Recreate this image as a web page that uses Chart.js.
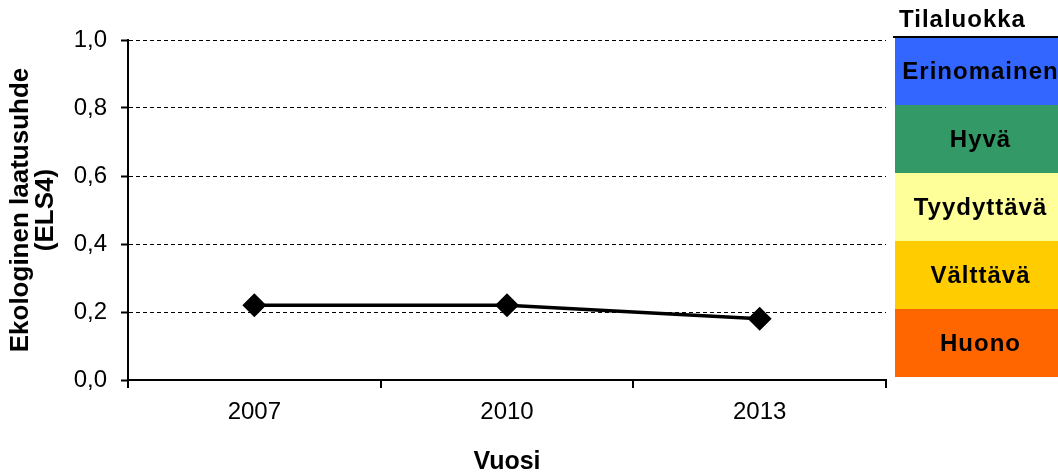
<!DOCTYPE html>
<html>
<head>
<meta charset="utf-8">
<script src="https://cdn.jsdelivr.net/npm/chart.js@4"></script>
<style>
  html, body { margin: 0; padding: 0; background: #fff; }
  #wrap { width: 1058px; height: 473px; }
</style>
</head>
<body>
<div id="wrap"><canvas id="kaavio" width="1058" height="473"></canvas></div>
<script>
const vuodet = ['2007', '2010', '2013'];
const arvot = [0.22, 0.22, 0.18];
const yTikit = [0, 0.2, 0.4, 0.6, 0.8, 1.0];

// tilaluokat ylhäältä alas, rajat ELS-asteikolla
const luokat = ['Erinomainen', 'Hyvä', 'Tyydyttävä', 'Välttävä', 'Huono'];
const luokkaYla = [1.0, 0.8, 0.6, 0.4, 0.2];
const luokkaAla = [0.8, 0.6, 0.4, 0.2, 0.0];
const luokkaVarit = ['#3366ff', '#339966', '#ffff99', '#ffcc00', '#ff6600'];

const fontti = "'Liberation Sans', Arial, sans-serif";

const tilaluokkaPlugin = {
    id: 'tilaluokat',
    afterDraw(chart) {
        const ctx = chart.ctx;
        const y = chart.scales.y;
        const x0 = chart.chartArea.right + 9;
        const x1 = chart.width;
        ctx.save();
        ctx.font = 'bold 24px ' + fontti;
        if ('letterSpacing' in ctx) ctx.letterSpacing = '1px';
        luokat.forEach((nimi, i) => {
            const yt = y.getPixelForValue(luokkaYla[i]) - 3;
            const yb = y.getPixelForValue(luokkaAla[i]) - 3;
            ctx.fillStyle = luokkaVarit[i];
            ctx.fillRect(x0, yt, x1 - x0, yb - yt);
            ctx.fillStyle = '#000';
            ctx.textAlign = 'center';
            ctx.textBaseline = 'middle';
            ctx.fillText(nimi, (x0 + x1) / 2 + 4, (yt + yb) / 2 + 1);
        });
        // otsikko ja viiva
        const ylin = y.getPixelForValue(1.0) - 3;
        ctx.strokeStyle = '#000';
        ctx.lineWidth = 2;
        ctx.beginPath();
        ctx.moveTo(x0 - 2, ylin);
        ctx.lineTo(x1, ylin);
        ctx.stroke();
        ctx.textAlign = 'left';
        ctx.textBaseline = 'middle';
        ctx.fillText('Tilaluokka', x0 + 4, 20);
        ctx.restore();
    }
};

new Chart(document.getElementById('kaavio'), {
    type: 'line',
    data: {
        labels: vuodet,
        datasets: [{
            data: arvot,
            borderColor: '#000',
            backgroundColor: '#000',
            borderWidth: 3.5,
            pointStyle: 'rectRot',
            pointRadius: 9.5,
            pointHoverRadius: 9.5,
            tension: 0
        }]
    },
    options: {
        responsive: false,
        animation: false,
        layout: { padding: { top: 40, right: 172, left: 0, bottom: 0 } },
        plugins: { legend: { display: false }, tooltip: { enabled: false } },
        scales: {
            x: {
                offset: true,
                grid: { offset: true, drawOnChartArea: false, drawTicks: true, tickLength: 8, color: '#000', lineWidth: 2 },
                border: { color: '#000', width: 2 },
                ticks: { color: '#000', font: { family: fontti, size: 24, lineHeight: 1.2 }, padding: 10 },
                title: { display: true, text: 'Vuosi', color: '#000', font: { family: fontti, size: 25, weight: 'bold', lineHeight: 0.9 }, padding: { top: 0, bottom: 0 } },
                afterFit(s) { s.height = 93; }
            },
            y: {
                min: 0,
                max: 1,
                afterBuildTicks(s) { s.ticks = yTikit.map(v => ({ value: v })); },
                grid: { color: '#000', lineWidth: 1, tickLength: 7, tickColor: '#000', tickWidth: 2, tickBorderDash: [] },
                border: { color: '#000', width: 2, dash: [4, 3] },
                ticks: {
                    color: '#000',
                    font: { family: fontti, size: 24 },
                    padding: 14,
                    callback: v => v.toFixed(1).replace('.', ',')
                },
                title: {
                    display: true,
                    text: ['Ekologinen laatusuhde', '(ELS4)'],
                    color: '#000',
                    font: { family: fontti, size: 26, weight: 'bold', lineHeight: 0.96 },
                    padding: { top: 8, bottom: 0 }
                },
                afterFit(s) { s.width = 128; }
            }
        }
    },
    plugins: [tilaluokkaPlugin]
});
</script>
</body>
</html>
